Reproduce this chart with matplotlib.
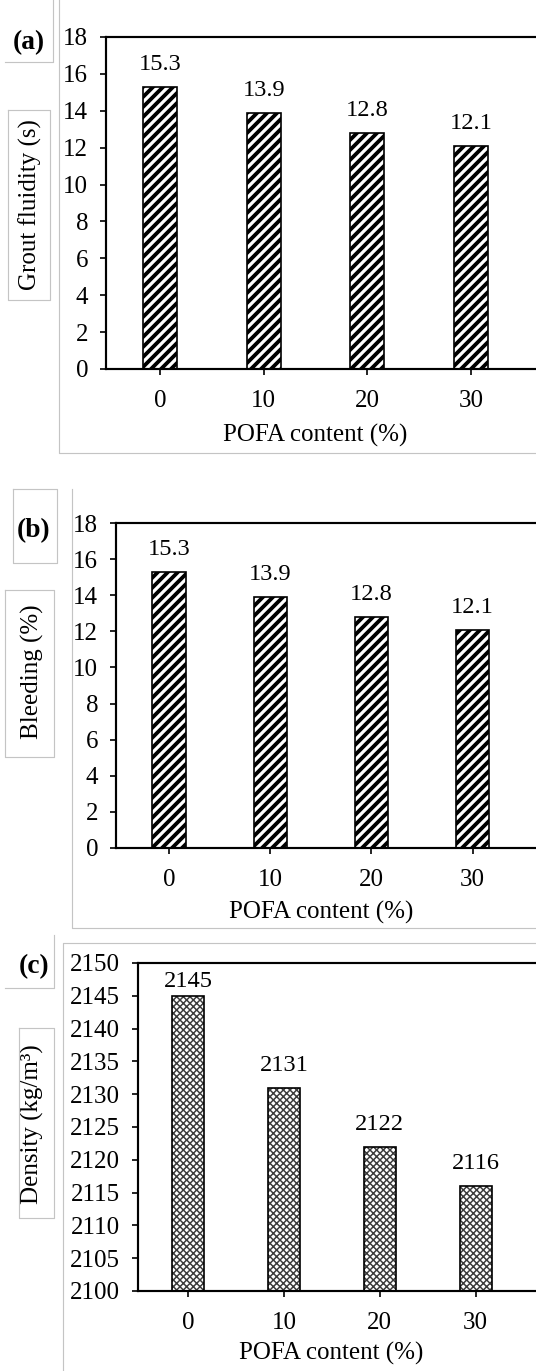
import matplotlib
matplotlib.use("Agg")
import matplotlib.pyplot as plt
from matplotlib.lines import Line2D

# data
pofa = ["0", "10", "20", "30"]
fluidity = [15.3, 13.9, 12.8, 12.1]
bleeding = [15.3, 13.9, 12.8, 12.1]
density = [2145, 2131, 2122, 2116]

fluid_ticks = list(range(0, 19, 2))
dens_ticks = list(range(2100, 2151, 5))

W, H, DPI = 536, 1371, 120
plt.rcParams['font.family'] = ['Liberation Serif', 'DejaVu Serif']
plt.rcParams['axes.linewidth'] = 1.3

fig = plt.figure(figsize=(W / DPI, H / DPI), dpi=DPI)
GREY = '#c4c4c4'


def gline(xs, ys):
    fig.add_artist(Line2D([x / W for x in xs], [1 - y / H for y in ys],
                          color=GREY, lw=0.7))


def panel(box, values, ylim, yticks, ylabel, fmt, letter, texts, dense=False):
    left, top, right, bottom = box
    ax = fig.add_axes([left / W, 1 - bottom / H, (right - left) / W, (bottom - top) / H])
    if dense:
        hl = 0.9
        plt.rcParams['hatch.linewidth'] = hl
        bars = ax.bar(pofa, values, width=0.33, color='white', edgecolor='#3c3c3c',
                      hatch='xxxxxx', linewidth=0)
    else:
        hl = 2.3
        plt.rcParams['hatch.linewidth'] = hl
        bars = ax.bar(pofa, values, width=0.33, color='white', edgecolor='black',
                      hatch='////', linewidth=0)
    for b in bars:
        if hasattr(b, 'set_hatch_linewidth'):
            b.set_hatch_linewidth(hl)
    outline = ax.bar(pofa, values, width=0.33, fill=False, edgecolor='black', linewidth=1.0)
    labels = ax.bar_label(outline, fmt=fmt, padding=7, fontsize=14.6)
    # the tallest label is squeezed under the top frame, as in the original
    if values[0] + (ylim[1] - ylim[0]) * 0.12 > ylim[1]:
        labels[0].xyann = (0, 2)

    bar_px = (right - left) / 4.15
    first_px = texts['first']
    x0 = -(first_px - left) / bar_px
    ax.set_xlim(x0, x0 + (right - left) / bar_px)
    ax.set_ylim(*ylim)
    ax.set_yticks(yticks)
    ax.spines['right'].set_visible(False)
    ax.tick_params(axis='y', direction='out', length=3.6, width=1.0, pad=7.0, labelsize=15)
    ax.tick_params(axis='x', direction='out', length=3.6, width=1.0, pad=9.0, labelsize=15)

    def to_ax(px, py):
        return (px - left) / (right - left), (bottom - py) / (bottom - top)

    ax.set_ylabel(ylabel, fontsize=15, va='center', ha='center')
    ax.yaxis.set_label_coords(*to_ax(*texts['ylabel']))
    ax.set_xlabel('POFA content (%)', fontsize=15, va='center', ha='center')
    ax.xaxis.set_label_coords(*to_ax(*texts['xlabel']))
    lx, ly = texts['letter']
    fig.text(lx / W, 1 - ly / H, letter, fontsize=16.5, fontweight='bold',
             ha='center', va='center')
    return ax


# panel (a)
panel((106, 37, 536, 369), fluidity, (0, 18), fluid_ticks, 'Grout fluidity (s)', '%.1f', '(a)',
      {'first': 160, 'ylabel': (30, 205), 'xlabel': (315, 435), 'letter': (29, 43)})
gline([5, 53, 53], [62, 62, 0])
gline([8, 50, 50, 8, 8], [110, 110, 300, 300, 110])
gline([59, 59, 536], [0, 453, 453])

# panel (b)
panel((116, 523, 536, 848), bleeding, (0, 18), fluid_ticks, 'Bleeding (%)', '%.1f', '(b)',
      {'first': 169, 'ylabel': (32, 672), 'xlabel': (321, 912), 'letter': (34, 531)})
gline([13, 57, 57, 13, 13], [489, 489, 563, 563, 489])
gline([5, 54, 54, 5, 5], [590, 590, 757, 757, 590])
gline([72, 72, 536], [489, 928, 928])

# panel (c)
panel((138, 963, 536, 1291), density, (2100, 2150), dens_ticks, 'Density (kg/m³)', '%d', '(c)',
      {'first': 188, 'ylabel': (32, 1124), 'xlabel': (331, 1353), 'letter': (34, 967)},
      dense=True)
gline([5, 54, 54], [988, 988, 935])
gline([19, 54, 54, 19, 19], [1028, 1028, 1218, 1218, 1028])
gline([536, 63, 63], [943, 943, 1371])

fig.savefig('out.png', dpi=DPI, facecolor='white')
